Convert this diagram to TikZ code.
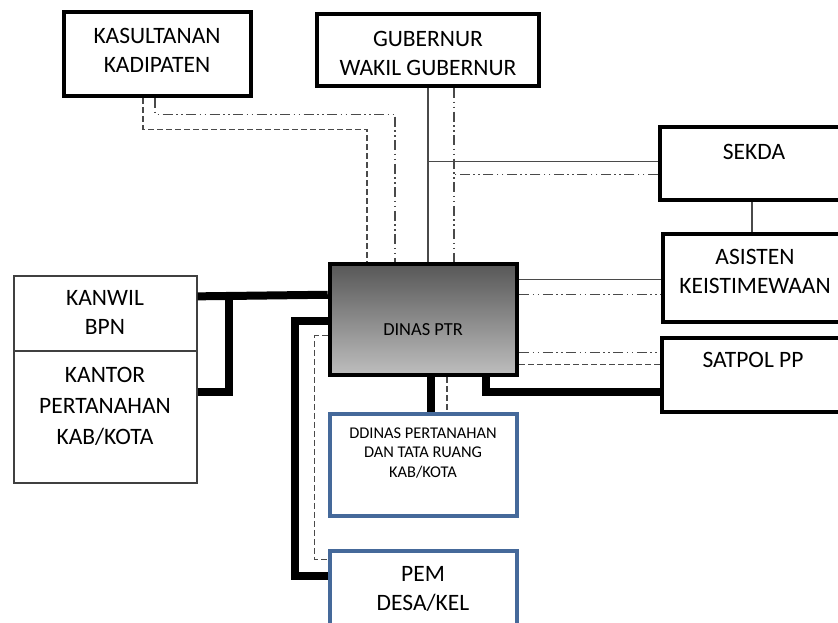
\documentclass[tikz,border=0pt]{standalone}
\usepackage{fontspec}
\setmainfont{Carlito}
\usepackage{tikz}
\usetikzlibrary{calc}

\definecolor{frameblue}{HTML}{45699A}
\definecolor{wiregray}{HTML}{4A4A4A}
\definecolor{dinastop}{HTML}{575757}
\definecolor{dinasbot}{HTML}{BEBEBE}

\tikzset{
  box/.style={draw=black, line width=4.5pt},
  thinbox/.style={draw=black!75, line width=1.3pt},
  bluebox/.style={draw=frameblue, line width=3.5pt},
  dinasbox/.style={draw=black, line width=4.5pt, top color=dinastop, bottom color=dinasbot},
  txt/.style={align=center, font=\fontsize{23.5}{29}\selectfont},
  smalltxt/.style={align=center, font=\fontsize{16.4}{19.5}\selectfont},
  strong/.style={draw=black, line width=8pt},
  wire/.style={draw=wiregray, line width=1.2pt},
  dashwire/.style={draw=wiregray, line width=1.2pt, dash pattern=on 6pt off 3pt},
  dotwire/.style={draw=wiregray, line width=1.2pt,
    dash pattern=on 10pt off 3.5pt on 1.5pt off 3.5pt on 1.5pt off 3.5pt},
}

\begin{document}
\begin{tikzpicture}[x=1pt,y=-1pt]
\useasboundingbox (0,0) rectangle (838,623);

% boxes
\node[box, minimum width=187, minimum height=84] (kas) at (157.5,54) {};
\node[box, minimum width=222, minimum height=72] (gub) at (428,50) {};
\node[box, minimum width=190, minimum height=73] (sekda) at (755,163.5) {};
\node[box, minimum width=187, minimum height=88] (asisten) at (756.5,278) {};
\node[box, minimum width=188, minimum height=74] (satpol) at (756,375) {};
\node[thinbox, minimum width=183, minimum height=75] (kanwil) at (105.5,313.5) {};
\node[thinbox, minimum width=183, minimum height=132] (kantor) at (105.5,417) {};
\node[dinasbox, minimum width=187, minimum height=111] (dinas) at (423.5,319.5) {};
\node[bluebox, minimum width=187, minimum height=102] (ddinas) at (423.5,465) {};
\node[bluebox, minimum width=187, minimum height=100] (pem) at (423.5,601) {};

% texts
\node[txt] (kastext) at (157,50.5) {KASULTANAN\\KADIPATEN};
\node[txt] (gubtext) at (428,53) {GUBERNUR\\WAKIL GUBERNUR};
\node[txt] (sekdatext) at (754,152) {SEKDA};
\node[txt] (asistentext) at (755,271.5) {ASISTEN\\KEISTIMEWAAN};
\node[txt] (satpoltext) at (753,360) {SATPOL PP};
\node[txt] (kanwiltext) at (105,312.5) {KANWIL\\BPN};
\node[txt, font=\fontsize{23.5}{31}\selectfont] (kantortext) at (105,406) {KANTOR\\PERTANAHAN\\KAB/KOTA};
\node[align=center, font=\fontsize{18.4}{22}\selectfont] (dinastext) at (423,330) {DINAS PTR};
\node[smalltxt] (ddinastext) at (423,453) {DDINAS PERTANAHAN\\DAN TATA RUANG\\KAB/KOTA};
\node[txt] (pemtext) at (423,589) {PEM\\DESA/KEL};

% left side
\draw[strong] ([yshift=-21pt]kanwil.north east) -- ([yshift=-33pt]dinas.north west);
\draw[strong] ([yshift=-42pt]kantor.north east) -| ([xshift=31pt,yshift=-21pt]kanwil.north east);
\draw[strong] ([yshift=-59pt]dinas.north west) -- ++(-33,0) |- ([yshift=-27pt]pem.north west);
\draw[dashwire] ([yshift=-74pt]dinas.north west) -- ++(-13,0) |- ([yshift=-10pt]pem.north west);

% below
\draw[strong] ([xshift=7.5pt]dinas.south) -- ([xshift=7.5pt]ddinas.north);
\draw[dashwire] ([xshift=23.5pt]dinas.south) -- ([xshift=23.5pt]ddinas.north);

% right side
\draw[strong] ([xshift=62.5pt]dinas.south) |- ([yshift=-56pt]satpol.north west);
\draw[dotwire] ([yshift=-91pt]dinas.north east) -- ([yshift=-17pt]satpol.north west);
\draw[dashwire] ([yshift=-103pt]dinas.north east) -- ([yshift=-29pt]satpol.north west);
\draw[wire] ([yshift=-18pt]dinas.north east) -- ([yshift=-48pt]asisten.north west);
\draw[dotwire] ([yshift=-33pt]dinas.north east) -- ([yshift=-63pt]asisten.north west);
\draw[wire] ([xshift=-3pt]sekda.south) -- ([xshift=-4.5pt]asisten.north);

% top
\draw[wire] (gub.south) -- (gub.south |- dinas.north);
\coordinate (sk1) at ([yshift=-37pt]sekda.north west);
\draw[wire] (sk1) -- (sk1 -| gub.south);
\draw[dotwire] ([xshift=26pt]gub.south) -- ([xshift=30.5pt]dinas.north);
\draw[dotwire] ([yshift=-50pt]sekda.north west) -- ++(-206,0);
\draw[dotwire] ([xshift=-2.5pt]kas.south) -- ++(0,16) -| ([xshift=-28.5pt]dinas.north);
\draw[dashwire] ([xshift=-14.5pt]kas.south) -- ++(0,31) -| ([xshift=-56.5pt]dinas.north);
\end{tikzpicture}
\end{document}
